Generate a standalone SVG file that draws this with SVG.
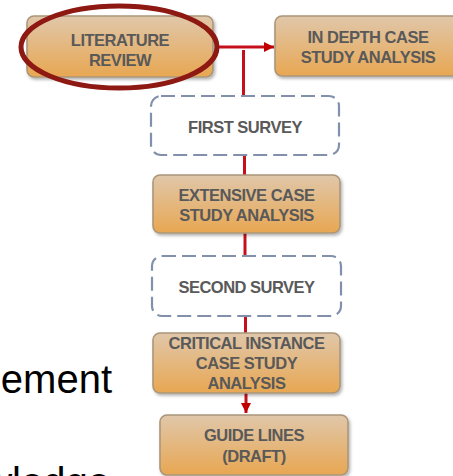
<svg xmlns="http://www.w3.org/2000/svg" width="453" height="476" viewBox="0 0 453 476">
  <defs>
    <linearGradient id="tan" x1="0" y1="0" x2="0" y2="1">
      <stop offset="0" stop-color="#e0c7aa"/>
      <stop offset="1" stop-color="#e8a752"/>
    </linearGradient>
    <filter id="shadow" x="-10%" y="-10%" width="125%" height="135%">
      <feDropShadow dx="1.5" dy="2" stdDeviation="1.5" flood-color="#000" flood-opacity="0.3"/>
    </filter>
    <marker id="arrow" viewBox="0 0 10 10" refX="10" refY="5" markerWidth="3.4" markerHeight="3.4" orient="auto" markerUnits="strokeWidth">
      <path d="M0,0 L10,5 L0,10 Z" fill="#c00000"/>
    </marker>
    <style>
      .box { fill: url(#tan); stroke: #ab967a; stroke-width: 1.6; filter: url(#shadow); }
      .survey { fill: #ffffff; stroke: #8290ab; stroke-width: 2.2; stroke-dasharray: 14 6; }
      .label { font-family: "Liberation Sans", Arial, sans-serif; font-weight: bold; font-size: 16.5px; letter-spacing: -0.5px; fill: #595959; text-anchor: middle; }
      .link { stroke: #c5101c; stroke-width: 3; fill: none; }
      .body { font-family: "Liberation Sans", Arial, sans-serif; font-size: 40px; fill: #000000; }
    </style>
  </defs>

  <!-- background slide text, cut at the edges -->
  <text class="body" x="112" y="393" text-anchor="end">ement</text>
  <text class="body" x="110" y="496" text-anchor="end">wledge</text>

  <!-- connectors -->
  <g id="connectors">
    <line class="link" x1="216" y1="47" x2="274" y2="47" marker-end="url(#arrow)"/>
    <line class="link" x1="243.5" y1="50" x2="243.5" y2="96"/>
    <line class="link" x1="244.5" y1="155" x2="244.5" y2="175"/>
    <line class="link" x1="245" y1="233" x2="245" y2="256"/>
    <line class="link" x1="245.5" y1="316" x2="245.5" y2="333"/>
    <line class="link" x1="246" y1="393" x2="246" y2="413" marker-end="url(#arrow)"/>
  </g>

  <g id="literature-review">
    <rect class="box" x="27" y="16" width="186" height="61" rx="7"/>
    <text class="label" x="120" y="45.5">LITERATURE</text>
    <text class="label" x="120" y="66">REVIEW</text>
    <ellipse cx="119" cy="47" rx="98" ry="41" fill="none" stroke="#8e1812" stroke-width="5"/>
  </g>

  <g id="in-depth-case-study">
    <rect class="box" x="275" y="16" width="187" height="60" rx="7"/>
    <text class="label" x="368" y="42.7">IN DEPTH CASE</text>
    <text class="label" x="368" y="63.3">STUDY ANALYSIS</text>
  </g>

  <g id="first-survey">
    <rect class="survey" x="151" y="96" width="188" height="59" rx="10"/>
    <text class="label" x="245" y="133">FIRST SURVEY</text>
  </g>

  <g id="extensive-case-study">
    <rect class="box" x="153" y="175" width="187" height="58" rx="7"/>
    <text class="label" x="246.5" y="201">EXTENSIVE CASE</text>
    <text class="label" x="246.5" y="221">STUDY ANALYSIS</text>
  </g>

  <g id="second-survey">
    <rect class="survey" x="152" y="256" width="189" height="60" rx="10"/>
    <text class="label" x="246.5" y="293">SECOND SURVEY</text>
  </g>

  <g id="critical-instance-case-study">
    <rect class="box" x="153" y="333" width="187" height="60" rx="7"/>
    <text class="label" x="246.5" y="348.5">CRITICAL INSTANCE</text>
    <text class="label" x="246.5" y="369">CASE STUDY</text>
    <text class="label" x="246.5" y="389">ANALYSIS</text>
  </g>

  <g id="guide-lines">
    <rect class="box" x="160" y="415" width="188" height="60" rx="7"/>
    <text class="label" x="254" y="441">GUIDE LINES</text>
    <text class="label" x="254" y="461.5">(DRAFT)</text>
  </g>
</svg>
